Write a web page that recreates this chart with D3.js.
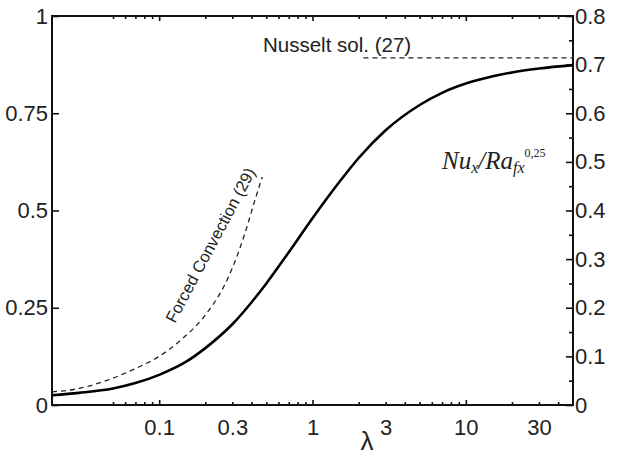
<!DOCTYPE html>
<html>
<head>
<meta charset="utf-8">
<script src="https://cdn.jsdelivr.net/npm/d3@7"></script>
<style>
  body { margin: 0; background: #fff; }
</style>
</head>
<body>
<svg id="chart" width="619" height="458"></svg>
<script>
// Mixed convection solution: Nu_x / Ra_fx^0.25 against lambda
const lambdaMixed = [0.02, 0.03, 0.05, 0.07, 0.1, 0.15, 0.2, 0.3, 0.5, 0.7, 1.0, 1.5, 2, 3, 5, 7, 10, 15, 20, 30, 50];
const nuMixed     = [0.020, 0.025, 0.034, 0.045, 0.062, 0.089, 0.117, 0.166, 0.250, 0.314, 0.384,
                     0.459, 0.508, 0.565, 0.617, 0.642, 0.661, 0.676, 0.684, 0.692, 0.699];

// Forced convection limit, eq. (29)
const lambdaForced = [0.02, 0.03, 0.046, 0.07, 0.1, 0.14, 0.2, 0.28, 0.36, 0.42, 0.47];
const nuForced     = [0.027, 0.034, 0.051, 0.075, 0.100, 0.135, 0.185, 0.260, 0.350, 0.420, 0.469];

// Nusselt (free convection) limit, eq. (27)
const nusseltLambda = [2.15, 50];
const nusseltValue = 0.714;

// Axis ticks
const xMajorTicks = [0.1, 1, 10];
const xMinorTicks = [0.05, 0.06, 0.07, 0.08, 0.09, 0.2, 0.3, 0.4, 0.5, 0.6, 0.7, 0.8, 0.9,
                     2, 3, 4, 5, 6, 7, 8, 9, 20, 30, 40];
const xTickLabels = [0.1, 0.3, 1, 3, 10, 30];
const leftTicks = [0, 0.25, 0.5, 0.75, 1];
const rightMajorTicks = [0, 0.1, 0.2, 0.3, 0.4, 0.5, 0.6, 0.7, 0.8];
const rightMinorTicks = [0.05, 0.15, 0.25, 0.35, 0.45, 0.55, 0.65, 0.75];

const SANS = '"Liberation Sans", Arial, sans-serif';
const SERIF = '"Liberation Serif", "Times New Roman", serif';

const svg = d3.select("#chart");
const L = 52, R = 573, T = 16, B = 405;

const x = d3.scaleLog().domain([0.02, 50]).range([L, R]);
const yLeft = d3.scaleLinear().domain([0, 1]).range([B, T]);
const yRight = d3.scaleLinear().domain([0, 0.8]).range([B, T]);

const fmt = d => String(d);

// bottom axis ticks (inward)
svg.append("g").attr("transform", `translate(0,${B})`)
  .call(d3.axisBottom(x).tickValues(xMinorTicks).tickSize(-3).tickFormat(""));
svg.append("g").attr("transform", `translate(0,${B})`)
  .call(d3.axisBottom(x).tickValues(xMajorTicks).tickSize(-5).tickFormat(""));
svg.append("g").attr("transform", `translate(0,${B})`)
  .call(d3.axisBottom(x).tickValues(xTickLabels).tickSize(0).tickPadding(14).tickFormat(fmt));

// top axis ticks (inward)
svg.append("g").attr("transform", `translate(0,${T})`)
  .call(d3.axisTop(x).tickValues(xMinorTicks).tickSize(-3).tickFormat(""));
svg.append("g").attr("transform", `translate(0,${T})`)
  .call(d3.axisTop(x).tickValues(xMajorTicks).tickSize(-5).tickFormat(""));

// left axis
svg.append("g").attr("transform", `translate(${L},0)`)
  .call(d3.axisLeft(yLeft).tickValues(leftTicks).tickSize(-7).tickPadding(4).tickFormat(fmt));

// right axis
svg.append("g").attr("transform", `translate(${R},0)`)
  .call(d3.axisRight(yRight).tickValues(rightMinorTicks).tickSize(-4).tickFormat(""));
svg.append("g").attr("transform", `translate(${R},0)`)
  .call(d3.axisRight(yRight).tickValues(rightMajorTicks).tickSize(-7).tickPadding(2).tickFormat(fmt));

svg.selectAll(".domain").remove();
svg.selectAll(".tick line").attr("stroke", "#111").attr("stroke-width", 1.6);
svg.selectAll(".tick text").attr("font-size", 22).attr("fill", "#222").style("font-family", SANS);

// frame
svg.append("rect").attr("x", L).attr("y", T).attr("width", R - L).attr("height", B - T)
  .attr("fill", "none").attr("stroke", "#111").attr("stroke-width", 2);

const line = d3.line().curve(d3.curveMonotoneX);

// forced convection (dashed)
svg.append("path")
  .attr("d", line(lambdaForced.map((l, i) => [x(l), yRight(nuForced[i])])))
  .attr("fill", "none").attr("stroke", "#222").attr("stroke-width", 1.3)
  .attr("stroke-dasharray", "5,4");

// Nusselt limit (dashed)
svg.append("path")
  .attr("d", line(nusseltLambda.map(l => [x(l), yRight(nusseltValue)])))
  .attr("fill", "none").attr("stroke", "#222").attr("stroke-width", 1.3)
  .attr("stroke-dasharray", "5,4");

// mixed convection (solid)
svg.append("path")
  .attr("d", line(lambdaMixed.map((l, i) => [x(l), yRight(nuMixed[i])])))
  .attr("fill", "none").attr("stroke", "#000").attr("stroke-width", 2.6);

// annotations
svg.append("text").attr("x", 263).attr("y", 52).attr("font-size", 20.5).attr("fill", "#222")
  .style("font-family", SANS).text("Nusselt sol. (27)");

svg.append("text")
  .attr("transform", `translate(175,324) rotate(-62)`)
  .attr("font-size", 16.5).attr("fill", "#222")
  .style("font-family", SANS).text("Forced Convection (29)");

svg.append("text").attr("x", 367).attr("y", 450).attr("text-anchor", "middle")
  .attr("font-size", 26).attr("fill", "#222").style("font-family", SANS).text("λ");

const yl = svg.append("text").attr("x", 442).attr("y", 169)
  .style("font-family", SERIF).style("font-style", "italic")
  .attr("font-size", 25).attr("fill", "#222");
yl.append("tspan").text("Nu");
yl.append("tspan").attr("font-size", 16).attr("dy", 4).text("x");
yl.append("tspan").attr("dy", -4).text("/Ra");
yl.append("tspan").attr("font-size", 16).attr("dy", 4).text("fx");
yl.append("tspan").attr("font-size", 12).style("font-style", "normal").attr("dy", -16).text("0,25");
</script>
</body>
</html>
